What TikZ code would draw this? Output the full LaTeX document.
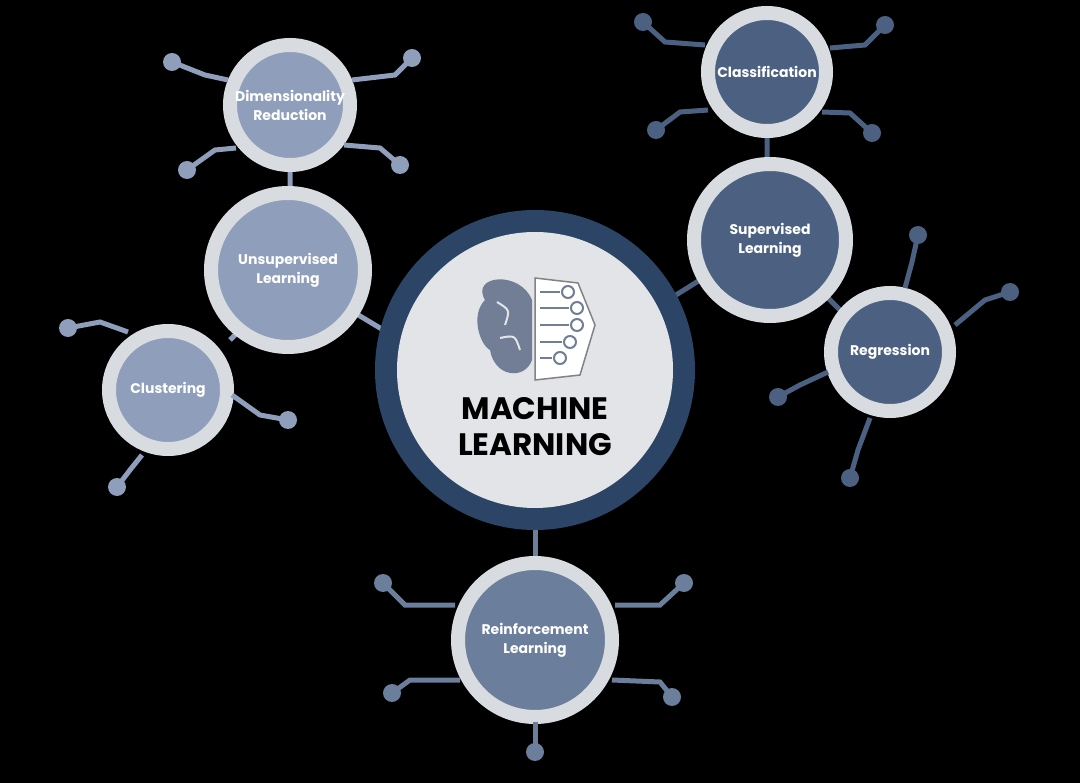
\documentclass[tikz,border=0pt]{standalone}
\usepackage{fontspec}
\setmainfont{Poppins}
\usetikzlibrary{positioning}
\definecolor{ringc}{HTML}{D8DBE0}
\definecolor{unsc}{HTML}{8E9EBB}
\definecolor{supc}{HTML}{4C6182}
\definecolor{rfc}{HTML}{6B7E9C}
\definecolor{mlc}{HTML}{2C4566}
\definecolor{mlin}{HTML}{E2E4E8}
\begin{document}
\begin{tikzpicture}[x=1pt,y=-1pt]
    \tikzstyle{topic}=[shape=circle,draw=ringc,line width=14pt,text=white,font=\bfseries\fontsize{14}{19}\selectfont,align=center,inner sep=0pt]
    \tikzstyle{link}=[line width=5pt]
    \tikzstyle{dot}=[shape=circle,minimum size=18pt,inner sep=0pt]

    \fill[black] (0,0) rectangle (1080,783);
    \useasboundingbox (0,0) rectangle (1080,783);

    % connectors first
    \draw[link,unsc] (290,160) -- (290,200) (230,340) -- (250,320) (350,310) -- (400,340);
    \draw[link,supc] (767,130) -- (767,170) (820,290) -- (845,315) (700,280) -- (660,305);
    \draw[link,rfc] (535,520) -- (535,570);

    \node[topic,fill=mlc,draw=mlc,line width=22pt,minimum size=298pt] (ML) at (535,370) {};
    \node[circle,fill=mlin,minimum size=276pt] (MLin) at (535,370) {};
    \node[font=\bfseries\fontsize{31}{36}\selectfont,align=center] (MLtext) at (535,427) {MACHINE\\LEARNING};

    % brain icon
    \fill[unsc!80!black] (532,300) .. controls (520,270) and (470,275) .. (485,300)
      .. controls (470,315) and (480,345) .. (490,350) .. controls (495,378) and (525,380) .. (532,360) -- cycle;
    \fill[white,draw=ringc!60!black,line width=1.5pt] (535,278) -- (578,283) -- (595,325) -- (580,375) -- (535,380) -- cycle;
    \foreach \yy/\xx in {292/568,308/577,325/577,342/570,358/560} {
      \draw[unsc!80!black,line width=2.5pt] (540,\yy) -- (\xx-8,\yy);
      \draw[unsc!80!black,line width=2pt,fill=white] (\xx,\yy) circle (6);
    }
    \draw[mlin,line width=2pt] (497,302) .. controls (510,310) .. (505,325) (500,338) .. controls (515,335) .. (520,350);

    \node[topic,fill=unsc,minimum size=154pt] (UL) at (288,270) {Unsupervised\\Learning};
    \node[topic,fill=unsc,minimum size=120pt] (DR) at (290,105) {Dimensionality\\Reduction};
    \node[topic,fill=unsc,minimum size=118pt] (CL) at (168,390) {Clustering};
    \node[topic,fill=supc,minimum size=152pt] (SL) at (770,240) {Supervised\\Learning};
    \node[topic,fill=supc,minimum size=118pt] (CF) at (767,72) {Classification};
    \node[topic,fill=supc,minimum size=118pt] (RG) at (890,352) {Regression};
    \node[topic,fill=rfc,minimum size=154pt] (RL) at (535,640) {Reinforcement\\Learning};

    % tentacles
    \foreach \c/\dx/\dy/\kx/\ky/\ex/\ey in {unsc/172/62/205/75/228/80, unsc/412/58/395/75/352/80,
        unsc/187/170/215/150/236/148, unsc/400/165/380/148/344/145,
        unsc/68/328/100/322/128/332, unsc/288/420/260/415/232/395, unsc/117/487/130/470/142/455,
        supc/643/22/665/42/705/45, supc/885/25/865/45/830/48,
        supc/656/130/680/112/708/110, supc/872/133/850/113/822/112,
        supc/918/235/912/262/905/288, supc/1010/292/985/300/955/325,
        supc/778/397/800/385/828/372, supc/850/478/858/450/870/418,
        rfc/383/583/405/605/455/605, rfc/684/583/660/605/615/605,
        rfc/392/693/410/680/460/680, rfc/672/697/660/682/612/680, rfc/535/752/535/738/535/722} {
      \node[dot,fill=\c] (d) at (\dx,\dy) {};
      \draw[link,\c] (d.center) -- (\kx,\ky) -- (\ex,\ey);
    }
\end{tikzpicture}
\end{document}
